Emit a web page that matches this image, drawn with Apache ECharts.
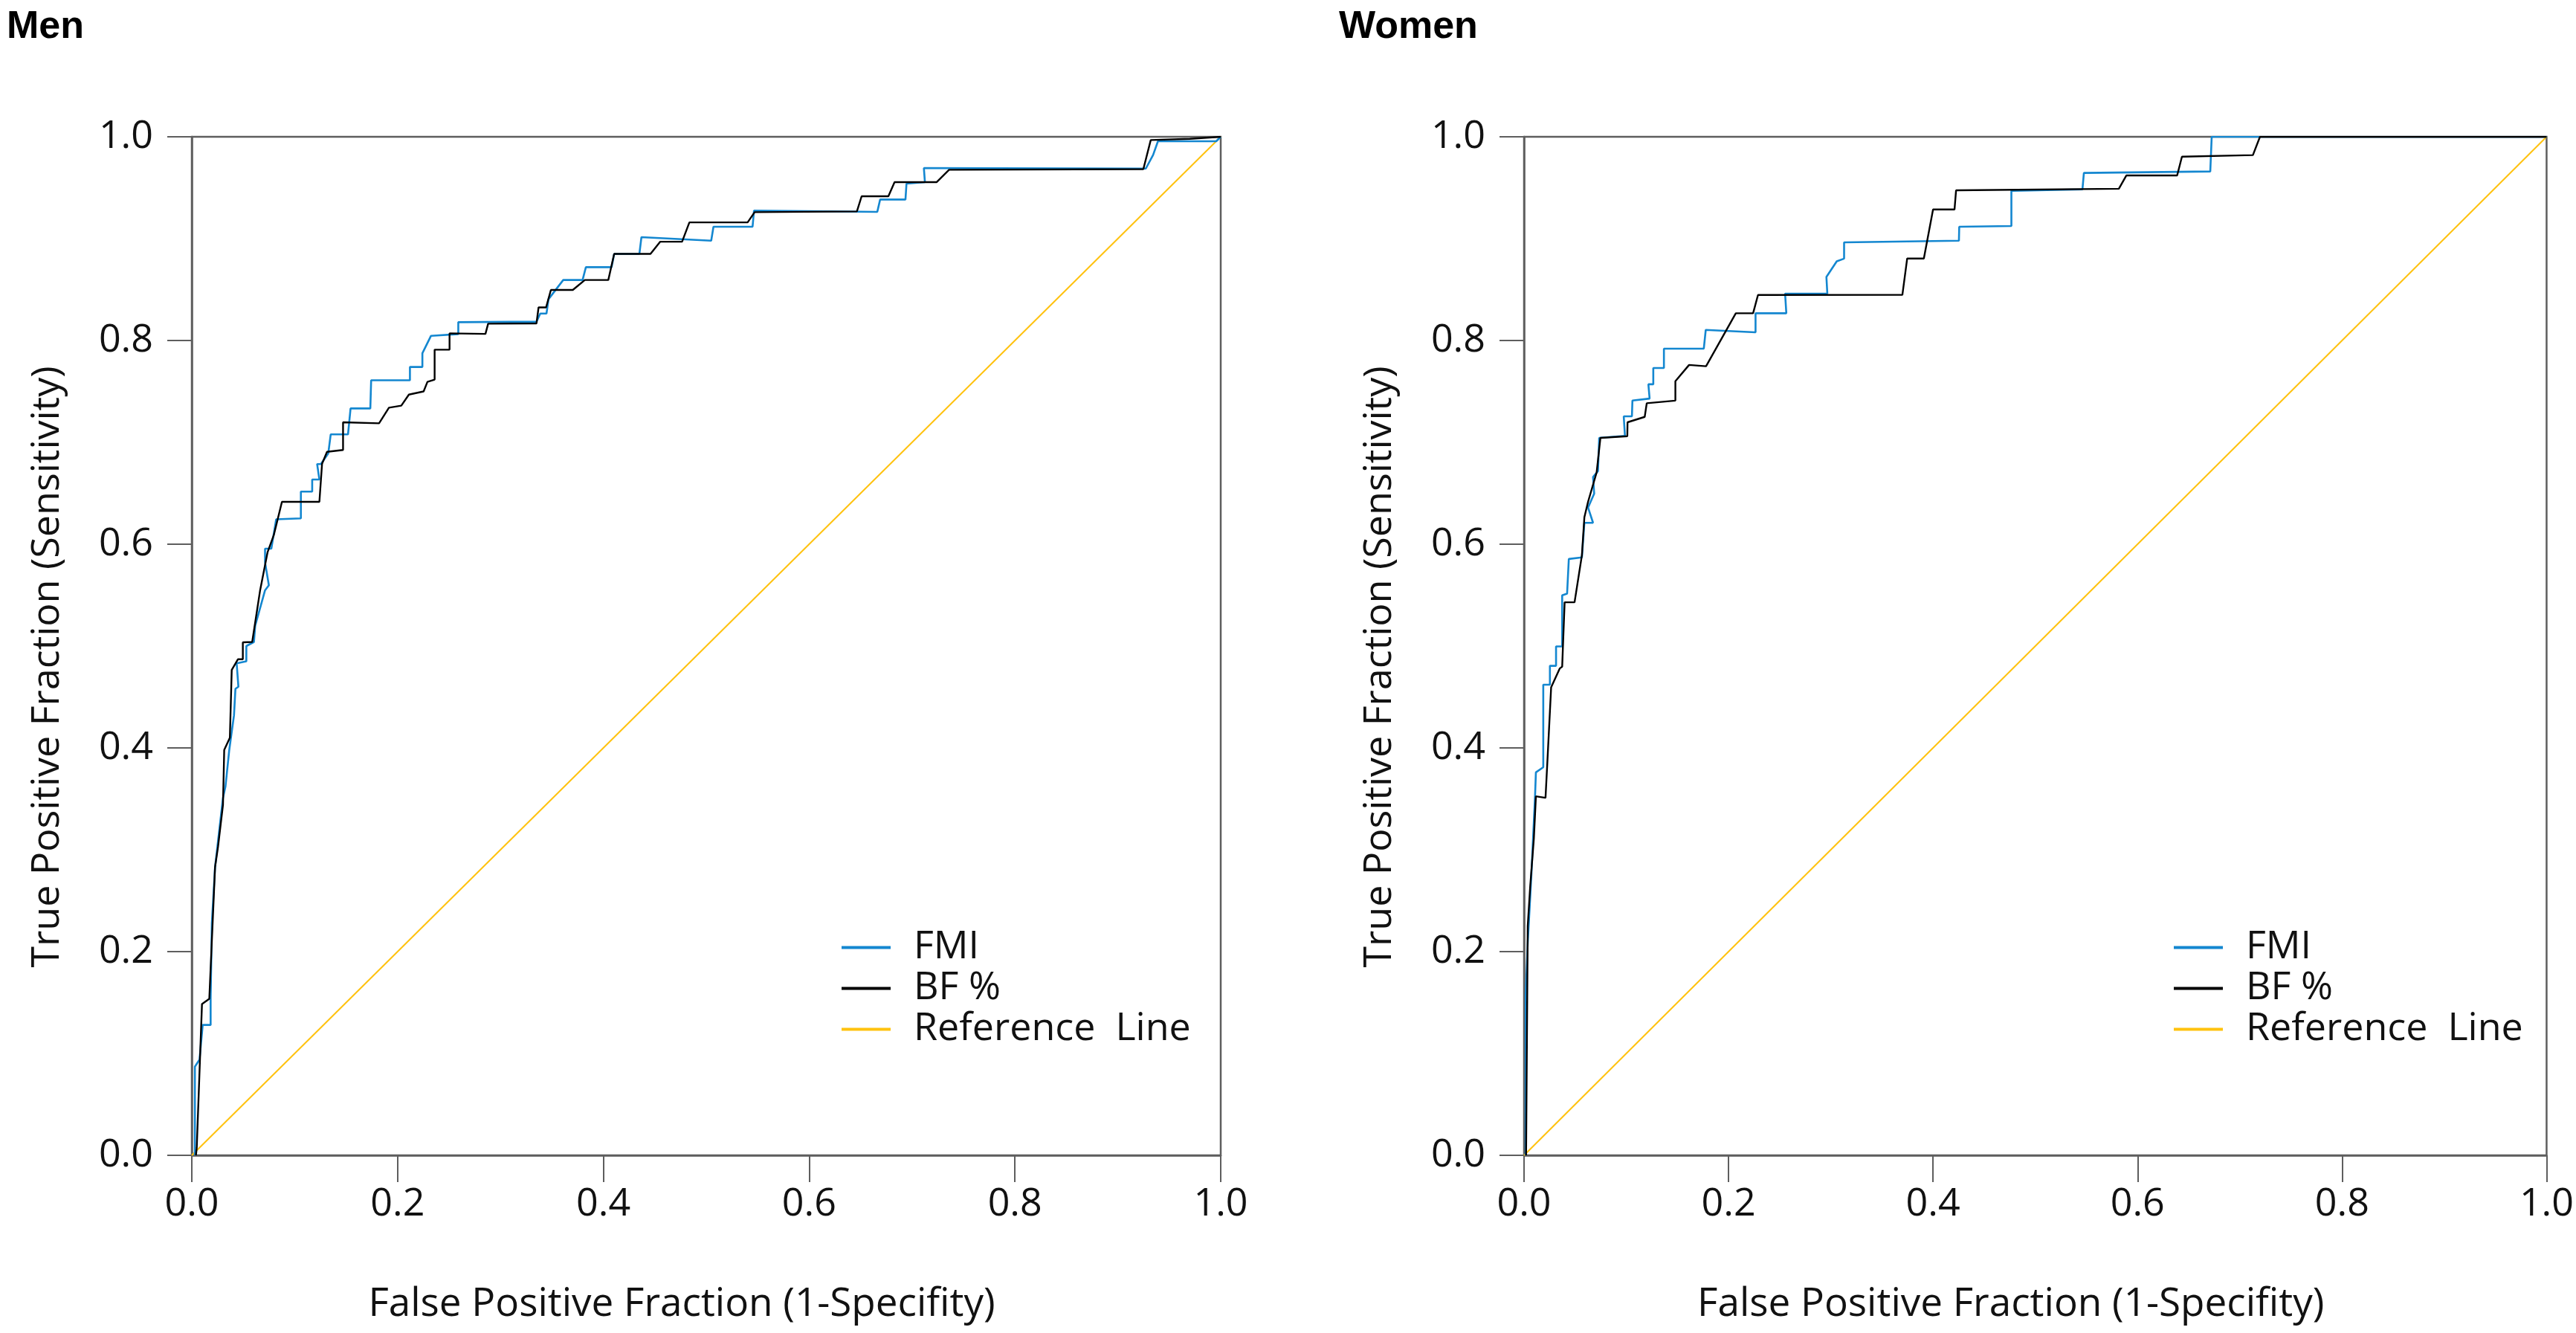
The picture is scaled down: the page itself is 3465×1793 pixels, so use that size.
<!DOCTYPE html>
<html>
<head>
<meta charset="utf-8">
<script src="https://cdn.jsdelivr.net/npm/echarts@6/dist/echarts.min.js"></script>
<style>
  html, body { margin: 0; padding: 0; background: #ffffff; }
  #chart { width: 3465px; height: 1793px; }
</style>
</head>
<body>
<div id="chart"></div>
<script>
// ---------- data ----------
const panelTitles = ['Men', 'Women'];
const seriesNames = ['FMI', 'BF %', 'Reference  Line'];
const xAxisTitle = 'False Positive Fraction (1-Specifity)';
const yAxisTitle = 'True Positive Fraction (Sensitivity)';
const axisTicks = [0.0, 0.2, 0.4, 0.6, 0.8, 1.0];

// Men, FMI  [FPR, TPR]
const menFMI = [
  [0.003,0.0],[0.003,0.087],[0.0075,0.094],[0.0106,0.128],[0.0183,0.128],[0.0183,0.154],
  [0.0195,0.228],[0.0226,0.283],[0.0303,0.351],[0.0327,0.362],[0.0364,0.398],[0.041,0.432],
  [0.0424,0.458],[0.0453,0.46],[0.0436,0.483],[0.053,0.485],[0.053,0.5],[0.0604,0.504],
  [0.0616,0.52],[0.0712,0.5548],[0.0749,0.5597],[0.0712,0.582],[0.0712,0.5956],[0.0773,0.5956],
  [0.082,0.6245],[0.106,0.6254],[0.106,0.6516],[0.117,0.6516],[0.117,0.6635],[0.124,0.6635],
  [0.1218,0.6787],[0.1254,0.6787],[0.1326,0.689],[0.135,0.7078],[0.1518,0.7078],[0.1543,0.7333],
  [0.1735,0.7333],[0.1743,0.761],[0.212,0.761],[0.212,0.774],[0.2241,0.774],[0.2241,0.7875],
  [0.2325,0.8046],[0.259,0.8063],[0.259,0.818],[0.335,0.8185],[0.3387,0.8265],[0.3447,0.8265],
  [0.3467,0.8406],[0.361,0.8594],[0.3798,0.8594],[0.383,0.872],[0.408,0.872],[0.4105,0.885],
  [0.435,0.885],[0.437,0.9015],[0.5048,0.898],[0.507,0.9117],[0.545,0.9117],[0.5464,0.9275],
  [0.6662,0.9263],[0.669,0.9384],[0.6936,0.9384],[0.6946,0.954],[0.7125,0.9555],[0.7115,0.9693],
  [0.9272,0.9688],[0.9343,0.9822],[0.939,0.9956],[0.9956,0.9956],[1.0,1.0]
];
// Men, BF %
const menBF = [
  [0.004,0.0],[0.0048,0.0075],[0.0099,0.1486],[0.017,0.1537],[0.0226,0.283],[0.0255,0.303],
  [0.0303,0.344],[0.0315,0.398],[0.037,0.41],[0.0388,0.4765],[0.0448,0.487],[0.0496,0.487],
  [0.0496,0.5036],[0.0587,0.504],[0.0664,0.5548],[0.0736,0.592],[0.0797,0.609],[0.0876,0.6416],
  [0.124,0.6416],[0.1266,0.679],[0.1314,0.6907],[0.147,0.6925],[0.147,0.7197],[0.182,0.7187],
  [0.1916,0.734],[0.2036,0.736],[0.211,0.7469],[0.2253,0.75],[0.229,0.7594],[0.236,0.7616],
  [0.236,0.791],[0.2505,0.791],[0.2505,0.807],[0.2854,0.8065],[0.288,0.8165],[0.335,0.8168],
  [0.337,0.8325],[0.3443,0.8325],[0.349,0.8496],[0.3703,0.8496],[0.382,0.8594],[0.4048,0.8594],
  [0.4105,0.885],[0.4458,0.885],[0.4553,0.897],[0.4765,0.897],[0.4836,0.916],[0.5402,0.916],
  [0.547,0.926],[0.6464,0.9267],[0.651,0.9416],[0.677,0.9416],[0.683,0.9555],[0.724,0.9555],
  [0.736,0.9676],[0.9248,0.9683],[0.932,0.9968],[0.97,0.998],[1.0,1.0]
];
// Women, FMI
const womenFMI = [
  [0.0016,0.0],[0.0016,0.157],[0.0036,0.208],[0.0072,0.276],[0.0108,0.3535],[0.0116,0.376],
  [0.0188,0.381],[0.0188,0.462],[0.0253,0.462],[0.0253,0.4806],[0.0313,0.4806],[0.0313,0.4996],
  [0.0373,0.4996],[0.0373,0.5498],[0.0421,0.5515],[0.0438,0.5855],[0.0566,0.587],[0.059,0.621],
  [0.0675,0.621],[0.0626,0.636],[0.0686,0.6497],[0.0675,0.666],[0.0723,0.6718],[0.0735,0.7044],
  [0.0987,0.7064],[0.0975,0.7255],[0.1055,0.7255],[0.106,0.741],[0.1228,0.743],[0.1216,0.757],
  [0.1264,0.757],[0.1264,0.773],[0.1368,0.773],[0.1368,0.792],[0.1758,0.792],[0.1777,0.8104],
  [0.2264,0.808],[0.2264,0.8267],[0.2565,0.8267],[0.2553,0.846],[0.2966,0.846],[0.2957,0.8624],
  [0.3058,0.8777],[0.313,0.8804],[0.313,0.8964],[0.4253,0.898],[0.4256,0.9117],[0.4766,0.9124],
  [0.4766,0.947],[0.5461,0.9484],[0.5475,0.9645],[0.6711,0.966],[0.6725,1.0],[1.0,1.0]
];
// Women, BF %
const womenBF = [
  [0.002,0.0],[0.0036,0.225],[0.006,0.2637],[0.0096,0.311],[0.0116,0.3525],[0.021,0.351],
  [0.0229,0.388],[0.0265,0.4595],[0.0349,0.478],[0.0373,0.4797],[0.038,0.4986],[0.0397,0.543],
  [0.0494,0.543],[0.0566,0.5892],[0.059,0.6264],[0.0626,0.6416],[0.071,0.6705],[0.0747,0.7044],
  [0.101,0.706],[0.1012,0.7197],[0.118,0.725],[0.12,0.7384],[0.148,0.741],[0.148,0.76],
  [0.1614,0.776],[0.178,0.7747],[0.2071,0.8267],[0.224,0.8267],[0.2288,0.8447],[0.37,0.8448],
  [0.3747,0.8805],[0.391,0.8805],[0.4,0.9287],[0.421,0.9287],[0.4225,0.9474],[0.5817,0.949],
  [0.589,0.962],[0.6387,0.962],[0.6434,0.9805],[0.7128,0.982],[0.7197,1.0],[1.0,1.0]
];
// Diagonal reference line
const refLine = [[0,0],[1,1]];

// ---------- styling ----------
const FONT = 'Open Sans';
const AXIS_COLOR = '#5e5e5e';
const COLORS = { FMI: '#1487d0', BF: '#000000', REF: '#ffc20e' };

const grids = [
  { left: 258, right: 1823, top: 184, bottom: 239 },
  { left: 2050, right: 31, top: 184, bottom: 239 }
];

function xAxisFor(i) {
  return {
    type: 'value', gridIndex: i, min: 0, max: 1, interval: 0.2,
    name: xAxisTitle, nameLocation: 'middle', nameGap: 174,
    nameTextStyle: { fontFamily: FONT, fontSize: 53, color: '#111', padding: [0, 66, 0, 0] },
    axisLine: { show: true, lineStyle: { color: AXIS_COLOR, width: 2.5 } },
    axisTick: { show: true, length: 36, lineStyle: { color: AXIS_COLOR, width: 2 } },
    axisLabel: { fontFamily: FONT, fontSize: 52, color: '#111', margin: 40,
      formatter: v => v.toFixed(1) },
    splitLine: { show: false }
  };
}
function yAxisFor(i) {
  return {
    type: 'value', gridIndex: i, min: 0, max: 1, interval: 0.2,
    name: yAxisTitle, nameLocation: 'middle', nameGap: 168,
    nameTextStyle: { fontFamily: FONT, fontSize: 52, color: '#111', padding: [0, 56, 0, 0] },
    axisLine: { show: true, lineStyle: { color: AXIS_COLOR, width: 2.5 } },
    axisTick: { show: true, length: 33, lineStyle: { color: AXIS_COLOR, width: 2 } },
    axisLabel: { fontFamily: FONT, fontSize: 52, color: '#111', margin: 52,
      formatter: v => v.toFixed(1) },
    splitLine: { show: false }
  };
}
function lineSeries(name, data, i, color, width, z) {
  return {
    name, type: 'line', data, xAxisIndex: i, yAxisIndex: i,
    showSymbol: false, symbol: 'none', smooth: false, silent: true,
    lineStyle: { color, width }, itemStyle: { color }, z, animation: false
  };
}
function legendFor(left) {
  return {
    left, top: 1247, orient: 'vertical', padding: 0, itemGap: 0,
    icon: 'rect', itemWidth: 66, itemHeight: 4,
    selectedMode: false,
    data: seriesNames,
    textStyle: { fontFamily: FONT, fontSize: 52, color: '#111', lineHeight: 55,
      padding: [0, 0, 0, 26] }
  };
}

const option = {
  backgroundColor: '#ffffff',
  animation: false,
  title: [
    { text: panelTitles[0], left: 4, top: 6,
      textStyle: { fontFamily: 'Liberation Sans', fontWeight: 'bold', fontSize: 52, color: '#000' } },
    { text: panelTitles[1], left: 1796, top: 6,
      textStyle: { fontFamily: 'Liberation Sans', fontWeight: 'bold', fontSize: 52, color: '#000' } }
  ],
  legend: [legendFor(1132), legendFor(2924)],
  grid: grids.map(g => Object.assign({ show: true, borderColor: AXIS_COLOR, borderWidth: 2.5,
    backgroundColor: 'transparent' }, g)),
  xAxis: [xAxisFor(0), xAxisFor(1)],
  yAxis: [yAxisFor(0), yAxisFor(1)],
  series: [
    lineSeries(seriesNames[2], refLine, 0, COLORS.REF, 2, 1),
    lineSeries(seriesNames[0], menFMI, 0, COLORS.FMI, 2.6, 2),
    lineSeries(seriesNames[1], menBF, 0, COLORS.BF, 2.4, 3),
    lineSeries(seriesNames[2], refLine, 1, COLORS.REF, 2, 1),
    lineSeries(seriesNames[0], womenFMI, 1, COLORS.FMI, 2.6, 2),
    lineSeries(seriesNames[1], womenBF, 1, COLORS.BF, 2.4, 3)
  ]
};

const chart = echarts.init(document.getElementById('chart'), null, { renderer: 'canvas' });
chart.setOption(option);
</script>
</body>
</html>
